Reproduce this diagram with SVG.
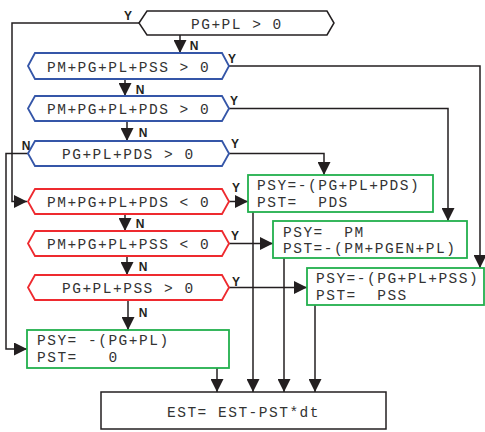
<svg xmlns="http://www.w3.org/2000/svg" width="485" height="432" viewBox="0 0 485 432">
<style>
.hk{fill:#fff;stroke:#231f20;stroke-width:1.5}
.hb{fill:#fff;stroke:#3556a8;stroke-width:1.8}
.hr{fill:#fff;stroke:#ee2a2f;stroke-width:1.8}
.bg{fill:#fff;stroke:#22b04d;stroke-width:1.8}
.bk{fill:#fff;stroke:#231f20;stroke-width:1.5}
.t{font-family:"Liberation Mono",monospace;font-size:14.5px;letter-spacing:1.5px;fill:#333;white-space:pre}
.l{font-family:"Liberation Sans",Arial,sans-serif;font-size:12px;font-weight:bold;fill:#231f20;text-anchor:middle}
.c{fill:none;stroke:#231f20;stroke-width:1.5}
</style>
<defs>
<marker id="a" markerUnits="userSpaceOnUse" markerWidth="13" markerHeight="13" refX="13" refY="6.5" orient="auto">
<path d="M0,0 L13,6.5 L0,13 z" fill="#231f20"/>
</marker>
</defs>
<rect width="485" height="432" fill="#fff"/>
<g id="connectors">
<path class="c" d="M139,23 H12 V201.5 H27" marker-end="url(#a)"/>
<path class="c" d="M180,35 V53" marker-end="url(#a)"/>
<path class="c" d="M229,66 H480 V268" marker-end="url(#a)"/>
<path class="c" d="M125,79 V96" marker-end="url(#a)"/>
<path class="c" d="M229,108.5 H448 V221" marker-end="url(#a)"/>
<path class="c" d="M127,121 V141" marker-end="url(#a)"/>
<path class="c" d="M229,153.5 H324 V175" marker-end="url(#a)"/>
<path class="c" d="M28,153.5 H6 V349 H27" marker-end="url(#a)"/>
<path class="c" d="M229,201.5 H248" marker-end="url(#a)"/>
<path class="c" d="M125,214 V231" marker-end="url(#a)"/>
<path class="c" d="M229,243.5 H273" marker-end="url(#a)"/>
<path class="c" d="M127,256 V275" marker-end="url(#a)"/>
<path class="c" d="M229,287.5 H307" marker-end="url(#a)"/>
<path class="c" d="M128,300 V330" marker-end="url(#a)"/>
<path class="c" d="M253,212 V392" marker-end="url(#a)"/>
<path class="c" d="M284,258 V392" marker-end="url(#a)"/>
<path class="c" d="M315,305 V392" marker-end="url(#a)"/>
<path class="c" d="M217,368 V392" marker-end="url(#a)"/>
</g>
<g id="labels">
<text class="l" x="128" y="20">Y</text>
<text class="l" x="194" y="50">N</text>
<text class="l" x="232" y="63">Y</text>
<text class="l" x="140" y="94">N</text>
<text class="l" x="234" y="105">Y</text>
<text class="l" x="143" y="137">N</text>
<text class="l" x="26" y="150">N</text>
<text class="l" x="235" y="148">Y</text>
<text class="l" x="236" y="192">Y</text>
<text class="l" x="140" y="228">N</text>
<text class="l" x="235" y="240">Y</text>
<text class="l" x="143" y="271">N</text>
<text class="l" x="236" y="286">Y</text>
<text class="l" x="143" y="317">N</text>
</g>
<g id="d1">
<polygon class="hk" points="139,23 147,11 327,11 334,23 327,35 147,35"/>
<text class="t" x="191" y="29" xml:space="preserve">PG+PL > 0</text>
</g>
<g id="d2">
<polygon class="hb" points="28,66 35,53 222,53 229,66 222,79 35,79"/>
<text class="t" x="47" y="71.5" xml:space="preserve">PM+PG+PL+PSS > 0</text>
</g>
<g id="d3">
<polygon class="hb" points="28,108.5 35,96 222,96 229,108.5 222,121 35,121"/>
<text class="t" x="47" y="114" xml:space="preserve">PM+PG+PL+PDS > 0</text>
</g>
<g id="d4">
<polygon class="hb" points="28,153.5 35,141 222,141 229,153.5 222,166 35,166"/>
<text class="t" x="62" y="159" xml:space="preserve">PG+PL+PDS > 0</text>
</g>
<g id="d5">
<polygon class="hr" points="28,201.5 35,189 222,189 229,201.5 222,214 35,214"/>
<text class="t" x="47" y="207" xml:space="preserve">PM+PG+PL+PDS &lt; 0</text>
</g>
<g id="d6">
<polygon class="hr" points="28,243.5 35,231 222,231 229,243.5 222,256 35,256"/>
<text class="t" x="47" y="249" xml:space="preserve">PM+PG+PL+PSS &lt; 0</text>
</g>
<g id="d7">
<polygon class="hr" points="28,287.5 35,275 222,275 229,287.5 222,300 35,300"/>
<text class="t" x="62" y="293" xml:space="preserve">PG+PL+PSS > 0</text>
</g>
<g id="b1">
<rect class="bg" x="248" y="175" width="185" height="37"/>
<text class="t" x="257" y="190" xml:space="preserve">PSY=-(PG+PL+PDS)</text>
<text class="t" x="257" y="207" xml:space="preserve">PST=  PDS</text>
</g>
<g id="b2">
<rect class="bg" x="273" y="221" width="194" height="37"/>
<text class="t" x="283" y="237" xml:space="preserve">PSY=  PM</text>
<text class="t" x="283" y="253" xml:space="preserve">PST=-(PM+PGEN+PL)</text>
</g>
<g id="b3">
<rect class="bg" x="307" y="268" width="177" height="37"/>
<text class="t" x="316" y="283" xml:space="preserve">PSY=-(PG+PL+PSS)</text>
<text class="t" x="316" y="300" xml:space="preserve">PST=  PSS</text>
</g>
<g id="b4">
<rect class="bg" x="27" y="330" width="202" height="38"/>
<text class="t" x="37" y="345" xml:space="preserve">PSY= -(PG+PL)</text>
<text class="t" x="37" y="362" xml:space="preserve">PST=   0</text>
</g>
<g id="b5">
<rect class="bk" x="101" y="392" width="285" height="37"/>
<text class="t" x="167" y="417" xml:space="preserve">EST= EST-PST*dt</text>
</g>
</svg>
